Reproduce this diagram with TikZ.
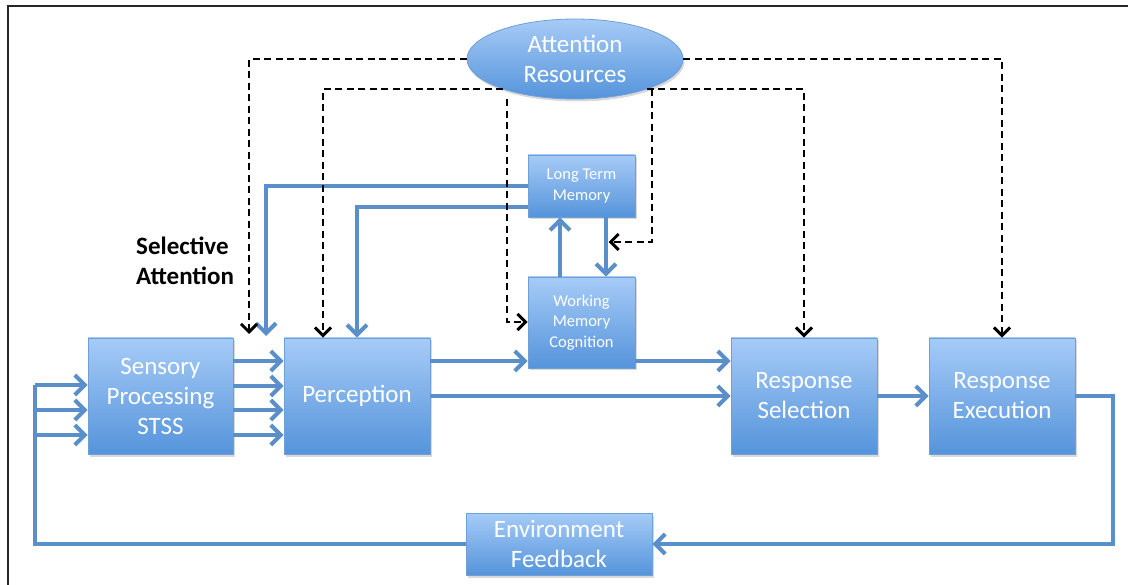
\documentclass[tikz,border=0pt]{standalone}
\usepackage{fontspec}
\setmainfont{Carlito}
\usetikzlibrary{arrows.meta,shapes.geometric,shadows}
\definecolor{lineblue}{HTML}{5A8FC9}
\definecolor{boxtop}{HTML}{A6CBF7}
\definecolor{boxbot}{HTML}{5594DB}
\definecolor{boxedge}{HTML}{6E9FD6}
\begin{document}
\begin{tikzpicture}[x=1pt,y=-1pt,
  box/.style={rectangle, draw=boxedge, line width=0.8pt, top color=boxtop, bottom color=boxbot,
    text=white, align=center, inner sep=0pt,
    drop shadow={shadow xshift=1.5pt, shadow yshift=-2.5pt, opacity=0.3}},
  big/.style={font=\fontsize{25}{30}\selectfont},
  small/.style={font=\fontsize{16.5}{20.5}\selectfont},
  bline/.style={draw=lineblue, line width=4.5pt},
  barrow/.style={bline, -{Straight Barb[length=10pt,width=20pt,line width=4pt]}},
  dline/.style={draw=black, line width=2pt, dash pattern=on 7pt off 4.5pt},
  darrow/.style={dline, -{Straight Barb[length=8pt,width=16pt,line width=3pt]}},
]
\useasboundingbox (0,0) rectangle (1128,585);
\draw[line width=2pt, color=black!85] (8,585) -- (8,6) -- (1128,6);

% nodes
\node[box, ellipse, minimum width=216pt, minimum height=80pt, big] (attn) at (575,59) {Attention\\Resources};
\node[box, small, minimum width=107pt, minimum height=62pt] (ltm) at (581.5,186) {Long Term\\Memory};
\node[box, small, minimum width=107pt, minimum height=91pt] (wm) at (581.5,322.5) {Working\\Memory\\Cognition};
\node[box, big, minimum width=145pt, minimum height=116pt] (sens) at (160.5,396) {Sensory\\Processing\\STSS};
\node[box, big, minimum width=146pt, minimum height=116pt] (perc) at (357,396) {Perception};
\node[box, big, minimum width=146pt, minimum height=116pt] (rsel) at (804,396) {Response\\Selection};
\node[box, big, minimum width=146pt, minimum height=116pt] (rexe) at (1002,396) {Response\\Execution};
\node[box, big, minimum width=186pt, minimum height=62pt] (env) at (559,544) {Environment\\Feedback};
\node[font=\bfseries\fontsize{25}{30}\selectfont, align=left, anchor=north west, inner sep=0pt] (sel) at (136,237) {Selective\\Attention};

% coordinates
\coordinate (saB) at (266,336);
\coordinate (saD) at (249,334);
\coordinate (wmD) at (507,322);
\coordinate (ltmD) at (652,242);
\coordinate (fbR) at (1113,544);
\coordinate (fbL1) at (35,385);
\coordinate (fbL2) at (35,410);
\coordinate (fbL3) at (35,435);

% blue connectors
\draw[barrow] (ltm.west) -| (saB);
\draw[barrow] ([yshift=-21pt]ltm.west) -| (perc.north);
\draw[barrow] ([xshift=-21.5pt]wm.north) -- ([xshift=-21.5pt]ltm.south);
\draw[barrow] ([xshift=24.5pt]ltm.south) -- ([xshift=24.5pt]wm.north);
\foreach \d in {35,10,-14,-39}{
  \draw[barrow] ([yshift=\d pt]sens.east) -- ([yshift=\d pt]perc.west);
}
\draw[barrow] ([yshift=35pt]perc.east) -- ([yshift=35pt]perc.east -| wm.west);
\draw[barrow] ([yshift=35pt]perc.east -| wm.east) -- ([yshift=35pt]rsel.west);
\draw[barrow] (perc.east) -- (rsel.west);
\draw[barrow] (rsel.east) -- (rexe.west);
\draw[barrow] (rexe.east) -| (fbR) -- (env.east);
\draw[bline] (env.west) -| (fbL1);
\draw[barrow] (fbL1) -- (fbL1 -| sens.west);
\draw[barrow] (fbL2) -- (fbL2 -| sens.west);
\draw[barrow] (fbL3) -- (fbL3 -| sens.west);

% dashed attention connectors
\draw[darrow] (attn.west) -| (saD);
\draw[darrow] (attn.east) -| (rexe.north);
\draw[darrow] (attn.203) -| ([xshift=-34pt]perc.north);
\draw[darrow] (attn.337) -| (rsel.north);
\draw[darrow] (attn.south -| wmD) -- (wmD) -- (wmD -| wm.west);
\draw[darrow] (ltmD |- attn.337) -- (ltmD) -- ([xshift=27pt]ltm.south |- ltmD);
\end{tikzpicture}
\end{document}
